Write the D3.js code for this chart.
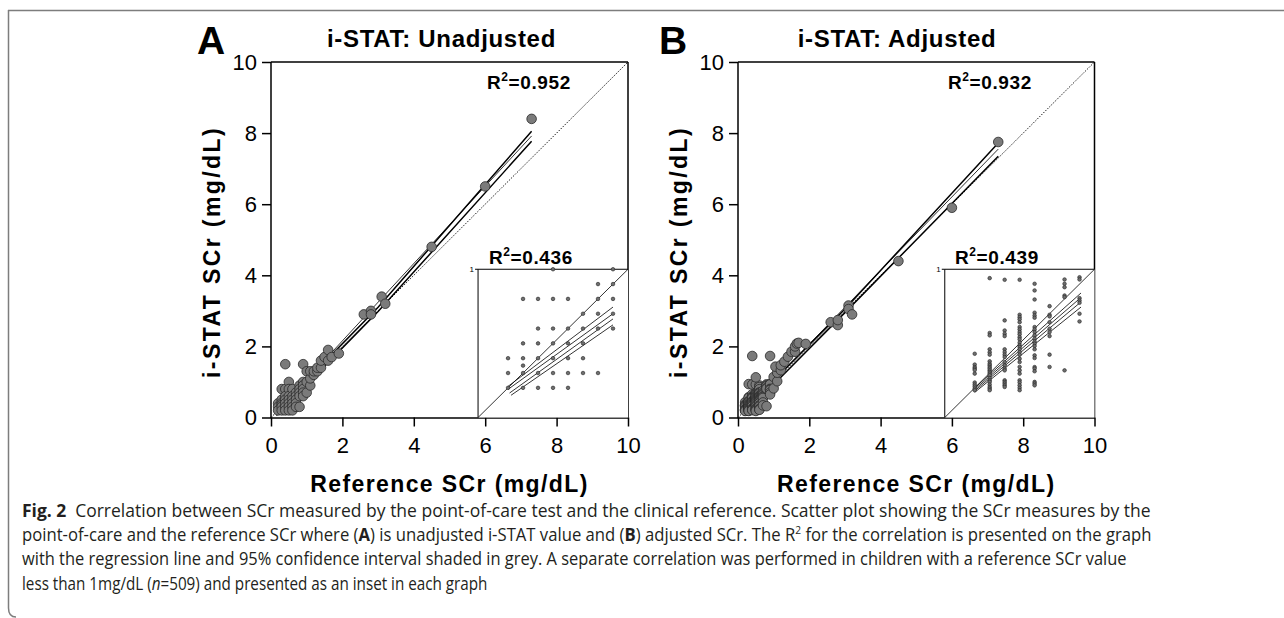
<!DOCTYPE html>
<html>
<head>
<meta charset="utf-8">
<script src="https://cdn.jsdelivr.net/npm/d3@7/dist/d3.min.js"></script>
<style>
  body { margin: 0; background: #fff; }
  svg text { font-family: "Liberation Sans", Arial, Helvetica, sans-serif; fill: #000; }
  svg .caption text { font-family: "Open Sans", "Noto Sans", sans-serif; fill: #231f20; }
</style>
</head>
<body>
<svg id="fig" width="1284" height="618"></svg>
<script>
// ---- data (mg/dL) ----
var ticks = [0, 2, 4, 6, 8, 10];

// A: points outside the inset range (ref >= 1 or i-STAT > 1)
var extraA = [[0.4,1.5],[0.9,1.5],[1.0,0.7],[1.0,1.0],[1.0,1.3],[1.1,0.9],[1.1,1.1],[1.1,1.3],
  [1.2,1.2],[1.2,1.3],[1.3,1.3],[1.3,1.4],[1.4,1.4],[1.4,1.6],[1.5,1.7],[1.6,1.6],[1.6,1.9],
  [1.7,1.7],[1.9,1.8],[2.6,2.9],[2.8,3.0],[2.8,2.9],[3.1,3.4],[3.2,3.2],[4.5,4.8],[6.0,6.5],[7.3,8.4]];
// A inset (ref < 1): i-STAT values per reference column
var insetXA = [0.2, 0.3, 0.4, 0.5, 0.6, 0.7, 0.8, 0.9];
var insetYA = [
  [0.4,0.3,0.2],
  [0.8,0.5,0.4,0.35,0.3,0.2],
  [0.8,0.6,0.5,0.4,0.3,0.2],
  [1.0,0.8,0.6,0.5,0.4,0.3,0.2],
  [0.8,0.6,0.5,0.4,0.3,0.2],
  [0.7,0.6,0.5,0.4,0.3],
  [0.9,0.8,0.7,0.6,0.3],
  [1.0,0.9,0.8,0.7,0.6]
];

// B: adjusted
var extraB = [[0.4,1.73],[0.9,1.73],[0.5,1.13],[1.0,0.82],[1.0,1.14],[1.1,1.02],[1.1,1.26],[1.05,1.43],
  [1.2,1.33],[1.2,1.47],[1.3,1.57],[1.4,1.71],[1.5,1.85],[1.6,1.85],[1.6,2.0],[1.65,2.08],[1.7,2.1],
  [1.9,2.07],[2.6,2.68],[2.8,2.6],[2.8,2.74],[3.1,3.15],[3.1,3.05],[3.2,2.9],[4.5,4.4],[6.0,5.9],[7.3,7.75]];
var insetXB = [0.2, 0.3, 0.4, 0.5, 0.6, 0.7, 0.8, 0.9];
var insetYB = [
  [0.43,0.357,0.34,0.33,0.32,0.296,0.236,0.222,0.209,0.195,0.184],
  [0.94,0.57,0.554,0.46,0.44,0.424,0.379,0.363,0.352,0.34,0.33,0.318,0.307,0.296,0.285,0.266,0.251,0.24,0.222,0.206,0.195,0.184],
  [0.929,0.655,0.587,0.565,0.549,0.46,0.441,0.424,0.408,0.374,0.352,0.33,0.318,0.251,0.24,0.229,0.217,0.206],
  [0.929,0.693,0.677,0.662,0.643,0.61,0.594,0.576,0.561,0.542,0.527,0.505,0.487,0.475,0.46,0.441,0.424,0.397,0.374,0.341,0.318,0.296,0.251,0.236,0.217,0.2,0.184],
  [0.902,0.857,0.796,0.707,0.688,0.673,0.61,0.594,0.576,0.554,0.532,0.513,0.498,0.482,0.46,0.419,0.401,0.34,0.33,0.312,0.24,0.229,0.217],
  [0.751,0.693,0.682,0.643,0.599,0.576,0.549,0.424,0.341],
  [0.931,0.902,0.879,0.823,0.812,0.318],
  [0.946,0.931,0.805,0.789,0.774,0.7,0.648]
];

// regression fit + 95% CI bounds (upper, fit, lower)
var fitA = [[[0.1,0.13],[3,3.1],[7.3,8.05]], [[0.1,0.09],[7.3,7.92]], [[0.15,0.06],[3,2.98],[7.3,7.77]]];
var fitB = [[[0.1,0.14],[3,3.05],[7.3,7.72]], [[0.1,0.1],[7.3,7.55]], [[0.15,0.07],[3,2.95],[7.3,7.35]]];
var insetFitA = [[[0.2,0.21],[0.9,0.745]], [[0.2,0.19],[0.9,0.70]], [[0.21,0.165],[0.9,0.665]], [[0.22,0.15],[0.9,0.625]]];
var insetFitB = [[[0.2,0.2],[0.91,0.84]], [[0.2,0.19],[0.91,0.81]], [[0.2,0.18],[0.91,0.78]], [[0.2,0.17],[0.91,0.745]]];

var r2Main = ["0.952", "0.932"];
var r2Inset = ["0.436", "0.439"];
var titles = ["i-STAT: Unadjusted", "i-STAT: Adjusted"];
var letters = ["A", "B"];

var captionLines = [
  [{t:"Fig. 2", b:1}, {t:"\u2002Correlation between SCr measured by the point-of-care test and the clinical reference. Scatter plot showing the SCr measures by the"}],
  [{t:"point-of-care and the reference SCr where ("}, {t:"A", b:1}, {t:") is unadjusted i-STAT value and ("}, {t:"B", b:1}, {t:") adjusted SCr. The R"}, {t:"2", sup:1}, {t:" for the correlation is presented on the graph"}],
  [{t:"with the regression line and 95% confidence interval shaded in grey. A separate correlation was performed in children with a reference SCr value"}],
  [{t:"less than 1mg/dL ("}, {t:"n", i:1}, {t:"=509) and presented as an inset in each graph"}]
];
var captionWidths = [1129, 1130, 1105, 466];

// ---- drawing ----
var svg = d3.select("#fig");

// figure frame
svg.append("line").attr("x1", 8).attr("x2", 1284).attr("y1", 10.5).attr("y2", 10.5)
  .attr("stroke", "#7d7d7d").attr("stroke-width", 1.5);
svg.append("path").attr("d", "M8.5,10 V608 Q8.5,617 16,617")
  .attr("fill", "none").attr("stroke", "#7d7d7d").attr("stroke-width", 1.5);

var panels = [
  {x0: 271, x1: 628, titleX: 441.5, letterX: 197, ylabX: 220, r2X: 487, r2inX: 489, extra: extraA, ix: insetXA, iy: insetYA, fit: fitA, ifit: insetFitA},
  {x0: 738, x1: 1094.5, titleX: 897, letterX: 659, ylabX: 687, r2X: 948, r2inX: 955, extra: extraB, ix: insetXB, iy: insetYB, fit: fitB, ifit: insetFitB}
];

var line = d3.line();

panels.forEach(function(p, k) {
  var x = d3.scaleLinear().domain([0, 10]).range([p.x0, p.x1]);
  var y = d3.scaleLinear().domain([0, 10]).range([417.5, 62]);
  var g = svg.append("g");

  // inset points as [x,y]
  var inPts = [];
  p.ix.forEach(function(xv, i) { p.iy[i].forEach(function(yv) { inPts.push([xv, yv]); }); });

  // frame top/right
  g.append("line").attr("x1", x(0)).attr("x2", x(10)).attr("y1", y(10)).attr("y2", y(10))
    .attr("stroke", "#000").attr("stroke-width", 1.5);
  g.append("line").attr("x1", x(10)).attr("x2", x(10)).attr("y1", y(10)).attr("y2", y(0))
    .attr("stroke", "#000").attr("stroke-width", 1.5);

  // identity line (dotted)
  g.append("line").attr("x1", x(0)).attr("y1", y(0)).attr("x2", x(10)).attr("y2", y(10))
    .attr("stroke", "#000").attr("stroke-width", 0.9).attr("stroke-dasharray", "1.4,1.4");

  // regression + CI
  g.selectAll(".fit").data(p.fit).enter().append("path")
    .attr("d", function(d) { return line(d.map(function(q) { return [x(q[0]), y(q[1])]; })); })
    .attr("fill", "none").attr("stroke", "#000")
    .attr("stroke-width", function(d, i) { return i === 1 ? 0.8 : 1.5; });

  // main points
  g.selectAll(".pt").data(inPts.concat(p.extra)).enter().append("circle")
    .attr("cx", function(d) { return x(d[0]); })
    .attr("cy", function(d) { return y(d[1]); })
    .attr("r", 4.8)
    .attr("fill", "#7b7b7b").attr("stroke", "#2a2a2a").attr("stroke-width", 0.8);

  // axes
  var ax = g.append("g").attr("transform", "translate(0," + y(0) + ")")
    .call(d3.axisBottom(x).tickValues(ticks).tickSize(9).tickSizeOuter(0).tickPadding(11));
  var ay = g.append("g").attr("transform", "translate(" + x(0) + ",0)")
    .call(d3.axisLeft(y).tickValues(ticks).tickSize(9).tickSizeOuter(0).tickPadding(5));
  [ax, ay].forEach(function(a) {
    a.select(".domain").attr("stroke-width", 1.5);
    a.selectAll(".tick line").attr("stroke-width", 1.5);
    a.selectAll(".tick text").style("font-size", "22px").attr("fill", "#000");
  });
  ay.select(".domain").attr("d", "M0," + (y(0) + 0.75) + "V" + y(10));

  // inset
  var ix = d3.scaleLinear().domain([0, 1]).range([x(5.8), x(10)]);
  var iy = d3.scaleLinear().domain([0, 1]).range([y(0), y(4.17)]);
  var ig = g.append("g");
  ig.append("rect").attr("x", ix(0)).attr("y", iy(1)).attr("width", ix(1) - ix(0)).attr("height", iy(0) - iy(1))
    .attr("fill", "#fff");
  ig.append("path").attr("d", "M" + ix(0) + "," + iy(0) + "V" + iy(1) + "H" + ix(1))
    .attr("fill", "none").attr("stroke", "#000").attr("stroke-width", 1);
  ig.append("line").attr("x1", ix(0) - 3).attr("x2", ix(0)).attr("y1", iy(1)).attr("y2", iy(1))
    .attr("stroke", "#000").attr("stroke-width", 1);
  ig.append("text").attr("x", ix(0) - 4).attr("y", iy(1) + 3).attr("text-anchor", "end")
    .style("font-size", "8px").text("1");
  ig.append("line").attr("x1", ix(0)).attr("y1", iy(0)).attr("x2", ix(1)).attr("y2", iy(1))
    .attr("stroke", "#000").attr("stroke-width", 0.8);
  ig.selectAll(".ifit").data(p.ifit).enter().append("path")
    .attr("d", function(d) { return line(d.map(function(q) { return [ix(q[0]), iy(q[1])]; })); })
    .attr("fill", "none").attr("stroke", "#000").attr("stroke-width", 0.8);
  ig.selectAll(".ipt").data(inPts).enter().append("circle")
    .attr("cx", function(d) { return ix(d[0]); })
    .attr("cy", function(d) { return iy(d[1]); })
    .attr("r", 1.8)
    .attr("fill", "#6e6e6e").attr("stroke", "#222").attr("stroke-width", 0.6);

  // labels
  g.append("text").attr("x", p.letterX).attr("y", 54)
    .style("font-size", "39px").style("font-weight", "bold").text(letters[k]);
  g.append("text").attr("x", p.titleX).attr("y", 47).attr("text-anchor", "middle")
    .style("font-size", "24px").style("font-weight", "bold").style("letter-spacing", "0.7px").text(titles[k]);
  g.append("text").attr("transform", "translate(" + p.ylabX + ",252) rotate(-90)").attr("text-anchor", "middle")
    .style("font-size", "23px").style("font-weight", "bold").style("letter-spacing", "2.4px").text("i-STAT SCr (mg/dL)");
  g.append("text").attr("x", (p.x0 + p.x1) / 2).attr("y", 492).attr("text-anchor", "middle")
    .style("font-size", "23px").style("font-weight", "bold").style("letter-spacing", "1.4px").text("Reference SCr (mg/dL)");

  function r2(xp, yp, val) {
    var t = g.append("text").attr("x", xp).attr("y", yp)
      .style("font-size", "19px").style("font-weight", "bold").style("letter-spacing", "0.6px");
    t.append("tspan").text("R");
    t.append("tspan").attr("dy", -8).style("font-size", "12px").text("2");
    t.append("tspan").attr("dy", 8).text("=" + val);
  }
  r2(p.r2X, 89, r2Main[k]);
  r2(p.r2inX, 264, r2Inset[k]);
});

// caption: natural text, squeezed horizontally to the reference line widths
var cap = svg.append("g").attr("class", "caption");
captionLines.forEach(function(parts, i) {
  var t = cap.append("text").attr("x", 0).attr("y", 517 + i * 24.2)
    .style("font-size", "18px");
  parts.forEach(function(s, j) {
    var sp = t.append("tspan").text(s.t);
    if (s.b) sp.style("font-weight", "bold");
    if (s.i) sp.style("font-style", "italic");
    if (s.sup) sp.attr("dy", -7).style("font-size", "11px");
    if (j > 0 && parts[j - 1].sup) sp.attr("dy", 7);
  });
  var w = t.node().getComputedTextLength();
  var sx = captionWidths[i] / w;
  t.attr("transform", "translate(22,0) scale(" + sx + ",1)");
});
</script>
</body>
</html>
